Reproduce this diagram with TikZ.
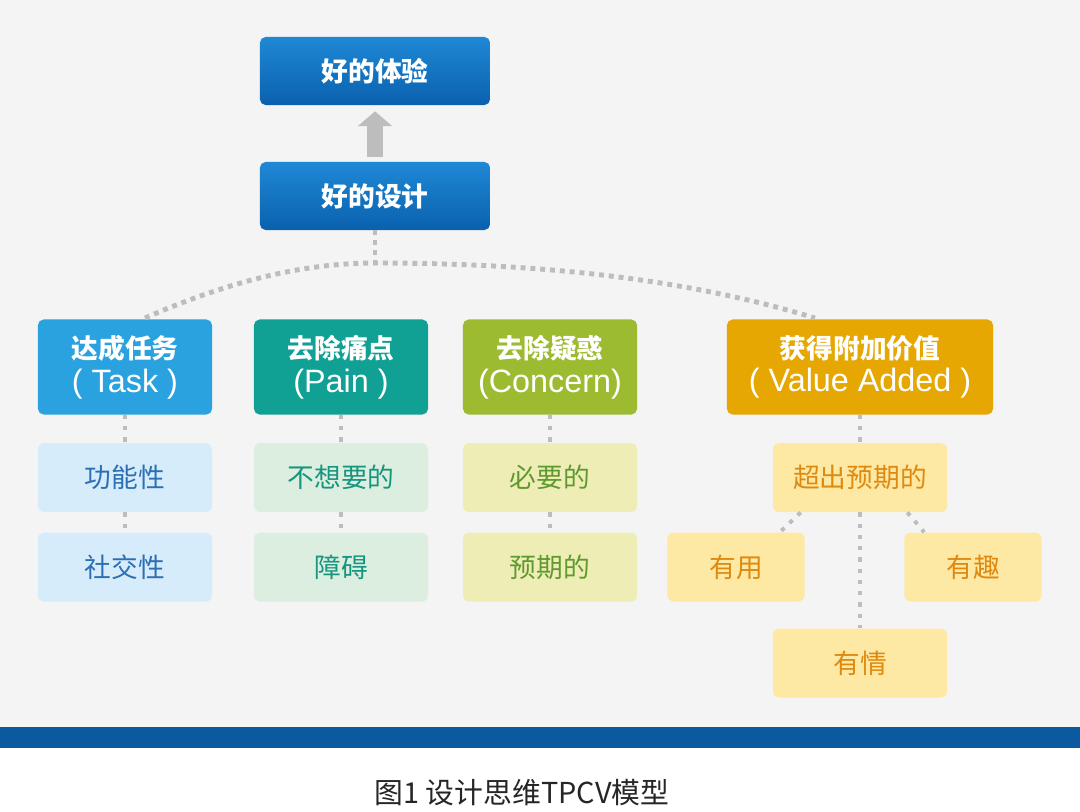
\documentclass[tikz,border=0pt]{standalone}
\usepackage{fontspec}
\setmainfont{Liberation Sans}
\newfontfamily\cjk{Noto Sans CJK SC}
\usetikzlibrary{arrows.meta, positioning, calc}
\definecolor{bgGray}{HTML}{F4F4F5}
\definecolor{bandBlue}{HTML}{0B5A9F}
\definecolor{topLight}{HTML}{1F88D5}
\definecolor{topDark}{HTML}{0A61AE}
\definecolor{taskBlue}{HTML}{29A2DF}
\definecolor{painTeal}{HTML}{10A094}
\definecolor{concGreen}{HTML}{9DBB31}
\definecolor{valGold}{HTML}{E6A703}
\definecolor{taskFill}{HTML}{D7ECFA}
\definecolor{taskText}{HTML}{2B6FB4}
\definecolor{painFill}{HTML}{DCEEDF}
\definecolor{painText}{HTML}{16957F}
\definecolor{concFill}{HTML}{EFEDB6}
\definecolor{concText}{HTML}{5E9A2E}
\definecolor{valFill}{HTML}{FDE8A4}
\definecolor{valText}{HTML}{E0890F}
\definecolor{dotGray}{HTML}{BDBDBD}

\begin{document}
\begin{tikzpicture}[x=0.025cm, y=-0.025cm,
    topbox/.style={rounded corners=4pt, top color=topLight, bottom color=topDark,
        minimum width=5.75cm, minimum height=1.7cm, inner sep=0pt,
        text=white, font=\cjk\bfseries\fontsize{19}{23}\selectfont},
    headbox/.style={rounded corners=4pt, fill=#1, minimum width=4.35cm,
        minimum height=2.375cm, inner sep=0pt, align=center,
        text=white, font=\fontsize{23}{23}\selectfont},
    subbox/.style={rounded corners=4pt, fill=#1, minimum width=4.35cm,
        minimum height=1.725cm, inner sep=0pt, font=\cjk\fontsize{19}{23}\selectfont},
    dotline/.style={draw=dotGray, line width=2.8pt, dash pattern=on 3pt off 5pt},
    arcline/.style={draw=dotGray, line width=3.5pt, dash pattern=on 3.5pt off 3.5pt}]
    \useasboundingbox (0,0) rectangle (1080,811);
    \fill[bgGray] (0,0) rectangle (1080,727);
    \fill[bandBlue] (0,727) rectangle (1080,748);

    % top of the tree
    \node[topbox] (exp) at (375,71) {好的体验};
    \node[topbox] (design) at (375,196) {好的设计};
    \draw[dotGray, line width=11.3pt, -{Triangle[length=10.6pt, width=24pt]}]
        ($(design.north)+(0,-5)$) -- ($(exp.south)+(0,6)$);

    % the four aims
    \node[headbox=taskBlue] (task) at (125,367)
        {{\cjk\bfseries\fontsize{19}{23}\selectfont 达成任务}\\[1pt]( Task )};
    \node[headbox=painTeal] (pain) at (341,367)
        {{\cjk\bfseries\fontsize{19}{23}\selectfont 去除痛点}\\[1pt](Pain )};
    \node[headbox=concGreen] (concern) at (550,367)
        {{\cjk\bfseries\fontsize{19}{23}\selectfont 去除疑惑}\\[1pt](Concern)};
    \node[headbox=valGold, minimum width=6.65cm] (value) at (860,367)
        {{\cjk\bfseries\fontsize{19}{23}\selectfont 获得附加价值}\\[1pt]( Value Added )};

    \coordinate (hub) at (375,263);
    \coordinate (arcL) at (145,318);
    \coordinate (arcR) at (815,318);
    \draw[arcline] (design.south) -- (hub);
    \draw[arcline] (arcL) .. controls (225,283) and (300,263) .. (hub)
        .. controls (560,263) and (700,283) .. (arcR);

    % second and third rows
    \node[subbox=taskFill, text=taskText, below=0.7cm of task] (func) {功能性};
    \node[subbox=taskFill, text=taskText, below=0.5cm of func] (social) {社交性};
    \node[subbox=painFill, text=painText, below=0.7cm of pain] (unwant) {不想要的};
    \node[subbox=painFill, text=painText, below=0.5cm of unwant] (barrier) {障碍};
    \node[subbox=concFill, text=concText, below=0.7cm of concern] (need) {必要的};
    \node[subbox=concFill, text=concText, below=0.5cm of need] (expect) {预期的};
    \node[subbox=valFill, text=valText, below=0.7cm of value] (beyond) {超出预期的};
    \node[subbox=valFill, text=valText, minimum width=3.425cm] (useful) at (736,567) {有用};
    \node[subbox=valFill, text=valText, minimum width=3.425cm] (fun) at (973,567) {有趣};
    \node[subbox=valFill, text=valText] (emotion) at (860,663) {有情};

    \draw[dotline] (task) -- (func);
    \draw[dotline] (func) -- (social);
    \draw[dotline] (pain) -- (unwant);
    \draw[dotline] (unwant) -- (barrier);
    \draw[dotline] (concern) -- (need);
    \draw[dotline] (need) -- (expect);
    \draw[dotline] (value) -- (beyond);
    \draw[dotline] (beyond) -- (emotion);
    \draw[dotline] ($(beyond.south west)+(28,0)$) -- ($(useful.north east)+(-25,0)$);
    \draw[dotline] ($(beyond.south east)+(-40,0)$) -- ($(fun.north west)+(20,0)$);

    \node[font=\cjk\fontsize{20.5}{23}\selectfont, text=black!85] (caption) at (522,793)
        {图1 设计思维TPCV模型};
\end{tikzpicture}
\end{document}
